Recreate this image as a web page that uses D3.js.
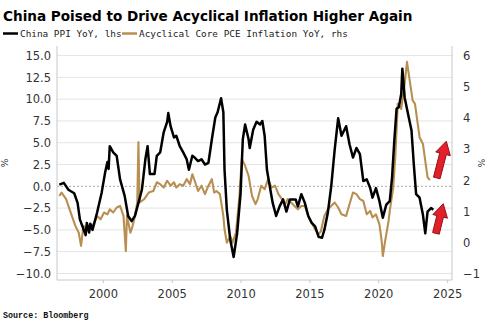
<!DOCTYPE html>
<html>
<head>
<meta charset="utf-8">
<script src="https://cdn.jsdelivr.net/npm/d3@7"></script>
<style>
  body { margin: 0; background: #fff; }
  svg { display: block; }
</style>
</head>
<body>
<svg width="485" height="330"></svg>
<script>
const width = 485;
const height = 330;

// China PPI YoY (lhs)
const ppiDates = ["1996-11","1997-03","1997-07","1997-12","1998-03","1998-05","1998-10","1998-11","1999-01","1999-02","1999-04","1999-08","1999-12",
  "2000-03","2000-05","2000-06","2000-07","2000-10","2001-01","2001-04","2001-08","2001-11","2002-02","2002-05","2002-08","2002-11",
  "2003-02","2003-04","2003-06","2003-10","2003-12","2004-03","2004-06","2004-09","2004-10","2004-12","2005-03","2005-05","2005-08","2005-11",
  "2006-02","2006-04","2006-07","2006-09","2006-12","2007-03","2007-06","2007-09","2007-12","2008-03","2008-05","2008-08","2008-10","2008-11",
  "2009-01","2009-04","2009-07","2009-10","2010-01","2010-03","2010-05","2010-08","2010-09","2010-12","2011-03","2011-06","2011-08","2011-10","2011-12",
  "2012-03","2012-05","2012-08","2012-11","2013-02","2013-05","2013-08","2014-01","2014-03","2014-06","2014-09","2014-12",
  "2015-03","2015-06","2015-09","2015-12","2016-02","2016-05","2016-08","2016-11","2017-02","2017-05","2017-09","2017-12",
  "2018-03","2018-06","2018-09","2018-12","2019-03","2019-06","2019-08","2019-11","2020-02","2020-05","2020-08","2020-11",
  "2021-01","2021-03","2021-05","2021-07","2021-09","2021-10","2021-12","2022-03","2022-06","2022-08","2022-10",
  "2023-01","2023-04","2023-06","2023-08","2023-11","2024-01"];
const ppiValues = [0.2,0.4,-0.4,-0.8,-1.9,-3.8,-5.6,-4.2,-5.3,-4.3,-5.0,-3.0,-0.7,
  1.6,2.8,2.0,4.6,3.9,3.5,0.8,-1.1,-3.4,-4.0,-3.4,-1.9,-0.4,
  3.1,4.6,1.4,1.4,3.5,3.9,6.2,7.4,8.4,6.9,5.6,5.8,4.6,3.9,
  3.1,1.9,3.5,3.3,2.9,3.1,2.5,2.7,5.4,7.9,8.5,10.1,8.5,1.9,
  -2.7,-6.1,-8.1,-5.4,-0.8,5.4,7.1,5.4,4.4,6.5,7.4,7.1,7.5,5.8,1.9,
  -0.4,-1.9,-3.4,-2.3,-1.5,-2.9,-1.5,-1.5,-2.3,-0.9,-1.9,-3.4,
  -4.2,-4.6,-5.8,-5.9,-5.0,-3.1,0.0,4.2,7.8,5.8,6.9,4.8,
  3.3,4.4,3.7,0.6,0.8,-0.2,-1.3,-0.2,-1.7,-3.6,-2.1,-1.7,
  1.0,5.2,8.9,9.1,10.6,13.5,10.2,8.3,6.4,2.5,-0.9,
  -1.3,-3.3,-5.4,-2.9,-2.5,-2.7];

// Acyclical Core PCE Inflation YoY (rhs)
const pceDates = ["1996-11","1997-01","1997-05","1997-08","1998-01","1998-04","1998-06","1998-08","1998-11","1999-02","1999-05","1999-08","1999-11",
  "2000-02","2000-05","2000-07","2000-10","2001-01","2001-04","2001-07","2001-09","2001-10","2002-01","2002-03","2002-05","2002-07","2002-08","2002-09",
  "2003-01","2003-05","2003-09","2003-12","2004-03","2004-06","2004-09","2004-12","2005-03","2005-05","2005-08","2005-11",
  "2006-02","2006-05","2006-07","2006-09","2006-12","2007-03","2007-06","2007-09","2007-12","2008-02","2008-04","2008-07","2008-10","2008-11",
  "2009-01","2009-04","2009-06","2009-09","2009-12","2010-02","2010-05","2010-08","2010-11","2011-02","2011-04","2011-07","2011-10",
  "2012-01","2012-04","2012-07","2012-10","2013-01","2013-04","2013-06","2013-09","2013-12","2014-03","2014-06","2014-09","2014-12",
  "2015-03","2015-06","2015-09","2015-11","2016-02","2016-05","2016-08","2016-11","2017-02","2017-05","2017-09","2017-12",
  "2018-03","2018-06","2018-09","2018-12","2019-03","2019-06","2019-08","2019-11","2020-02","2020-04","2020-05","2020-07","2020-10","2020-11",
  "2021-02","2021-04","2021-06","2021-09","2021-12","2022-02","2022-04","2022-07","2022-09","2022-11",
  "2023-01","2023-04","2023-06","2023-08","2023-10"];
const pceValues = [1.50,1.61,1.40,1.07,0.54,0.32,-0.10,0.54,0.43,0.54,0.59,0.86,0.75,
  0.97,0.91,1.07,0.97,1.13,1.18,0.86,-0.27,0.86,0.32,0.54,0.86,1.29,3.23,1.29,
  1.40,1.61,1.66,1.94,1.88,1.77,1.99,1.83,1.94,1.77,1.88,1.83,
  2.04,1.88,2.20,1.99,1.66,1.83,1.56,1.83,2.04,1.61,1.66,1.56,0.86,0.43,
  0.00,0.21,0.00,0.32,1.50,2.69,2.47,2.15,1.50,1.24,1.40,1.83,1.72,
  2.04,1.77,1.83,1.56,1.40,1.24,1.40,1.29,1.18,1.07,1.18,1.18,0.86,
  0.65,0.43,0.27,0.37,0.86,1.07,1.18,1.29,1.13,0.91,0.86,1.24,
  1.61,1.56,1.40,1.34,0.91,1.02,0.81,0.91,0.59,0.05,-0.43,0.05,0.70,1.02,
  1.77,2.85,4.46,4.30,5.11,5.81,5.32,4.57,4.46,3.92,
  3.39,3.17,2.63,2.10,2.01];

const leftTicks = [15, 12.5, 10, 7.5, 5, 2.5, 0, -2.5, -5, -7.5, -10];
const rightTicks = [6, 5, 4, 3, 2, 1, 0, -1];
const yearTicks = [2000, 2005, 2010, 2015, 2020, 2025];

const titleText = "China Poised to Drive Acyclical Inflation Higher Again";
const legendLabels = ["China PPI YoY, lhs", "Acyclical Core PCE Inflation YoY, rhs"];
const sourceText = "Source: Bloomberg";

const ppiColor = "#000000";
const pceColor = "#b88f50";

const parse = d3.timeParse("%Y-%m");
const ppi = ppiDates.map((d, i) => ({ date: parse(d), value: ppiValues[i] }));
const pce = pceDates.map((d, i) => ({ date: parse(d), value: pceValues[i] }));

const plot = { left: 57, right: 452, top: 46, bottom: 280 };

const svg = d3.select("svg");

const x = d3.scaleTime()
  .domain([new Date(1996, 8, 1), new Date(2025, 4, 10)])
  .range([plot.left, plot.right]);

const yLeft = d3.scaleLinear()
  .domain([-10.75, 16.1])
  .range([plot.bottom, plot.top]);

const yRight = d3.scaleLinear()
  .domain([-1.2, 6.32])
  .range([plot.bottom, plot.top]);

// grid lines
svg.append("g")
  .selectAll("line")
  .data(leftTicks)
  .enter()
  .append("line")
  .attr("x1", plot.left)
  .attr("x2", plot.right)
  .attr("y1", d => yLeft(d))
  .attr("y2", d => yLeft(d))
  .attr("stroke", d => d === 0 ? "none" : "#e4e4e4")
  .attr("stroke-width", 1);

// zero line
svg.append("line")
  .attr("x1", plot.left)
  .attr("x2", plot.right)
  .attr("y1", yLeft(0))
  .attr("y2", yLeft(0))
  .attr("stroke", "#a8a8a8")
  .attr("stroke-width", 1)
  .attr("stroke-dasharray", "2,2");

// left axis
const leftAxis = svg.append("g")
  .attr("transform", `translate(${plot.left},0)`)
  .call(d3.axisLeft(yLeft).tickValues(leftTicks).tickFormat(d3.format(".1f")).tickSize(0).tickPadding(6));

// right axis
const rightAxis = svg.append("g")
  .attr("transform", `translate(${plot.right},0)`)
  .call(d3.axisRight(yRight).tickValues(rightTicks).tickFormat(d3.format("d")).tickSize(0).tickPadding(11));

// bottom axis
const bottomAxis = svg.append("g")
  .attr("transform", `translate(0,${plot.bottom})`)
  .call(d3.axisBottom(x).tickValues(yearTicks.map(y => new Date(y, 0, 1))).tickFormat(d3.timeFormat("%Y")).tickSize(3).tickPadding(7));

[leftAxis, rightAxis, bottomAxis].forEach(g => {
  g.select(".domain").attr("stroke", "#c8c8c8");
  g.selectAll(".tick line").attr("stroke", "#c8c8c8");
  g.selectAll("text")
    .attr("fill", "#333")
    .style("font-family", "DejaVu Sans, sans-serif")
    .style("font-size", "11.5px");
});
leftAxis.select(".domain").attr("d", `M0,${plot.top}V${plot.bottom}`);
rightAxis.select(".domain").attr("d", `M0,${plot.top}V${plot.bottom}`);
bottomAxis.select(".domain").attr("d", `M${plot.left},0H${plot.right}`);

// % labels
svg.append("text")
  .attr("transform", `translate(8,${(plot.top + plot.bottom) / 2}) rotate(-90)`)
  .attr("text-anchor", "middle")
  .style("font-family", "DejaVu Sans, sans-serif")
  .style("font-size", "9px")
  .attr("fill", "#333")
  .text("%");

svg.append("text")
  .attr("transform", `translate(478,${(plot.top + plot.bottom) / 2}) rotate(90)`)
  .attr("text-anchor", "middle")
  .style("font-family", "DejaVu Sans, sans-serif")
  .style("font-size", "9px")
  .attr("fill", "#333")
  .text("%");

// lines
const lineLeft = d3.line().x(d => x(d.date)).y(d => yLeft(d.value));
const lineRight = d3.line().x(d => x(d.date)).y(d => yRight(d.value));

svg.append("path")
  .datum(pce)
  .attr("fill", "none")
  .attr("stroke", pceColor)
  .attr("stroke-width", 2.1)
  .attr("stroke-linejoin", "round")
  .attr("d", lineRight);

svg.append("path")
  .datum(ppi)
  .attr("fill", "none")
  .attr("stroke", ppiColor)
  .attr("stroke-width", 2.5)
  .attr("stroke-linejoin", "round")
  .attr("d", lineLeft);

// red arrows (annotation)
function arrow(x0, y0, x1, y1) {
  const dx = x1 - x0, dy = y1 - y0;
  const len = Math.sqrt(dx * dx + dy * dy);
  const ang = Math.atan2(dy, dx) * 180 / Math.PI;
  const head = 13, hw = 7.5, sw = 3.4;
  const p = [[0, -sw], [len - head, -sw], [len - head, -hw], [len, 0], [len - head, hw], [len - head, sw], [0, sw]];
  svg.append("path")
    .attr("d", "M" + p.map(q => q.join(",")).join("L") + "Z")
    .attr("transform", `translate(${x0},${y0}) rotate(${ang})`)
    .attr("fill", "#e3202a")
    .attr("stroke", "#8e0f16")
    .attr("stroke-width", 0.9);
}
arrow(x(new Date(2024, 3, 1)), yRight(2.08), x(new Date(2024, 11, 10)), yRight(3.26));
arrow(x(new Date(2024, 2, 10)), yLeft(-5.4), x(new Date(2024, 8, 20)), yLeft(-2.0));

// title
const title = svg.append("text")
  .attr("x", 3)
  .attr("y", 21)
  .style("font-family", "DejaVu Sans, sans-serif")
  .style("font-weight", "bold")
  .style("font-size", "13px")
  .attr("fill", "#000")
  .text(titleText);
const tw = title.node().getComputedTextLength();
title.style("font-size", (13 * 410 / tw) + "px");

// legend
const legend = svg.append("g");
const legendItems = [
  { x: 3, label: legendLabels[0], color: ppiColor },
  { x: 122, label: legendLabels[1], color: pceColor }
];
legendItems.forEach(d => {
  legend.append("line")
    .attr("x1", d.x).attr("x2", d.x + 15)
    .attr("y1", 33.5).attr("y2", 33.5)
    .attr("stroke", d.color)
    .attr("stroke-width", 2.5);
  legend.append("text")
    .attr("x", d.x + 17)
    .attr("y", 37)
    .style("font-family", "DejaVu Sans Mono, monospace")
    .style("font-size", "9.4px")
    .attr("fill", "#222")
    .text(d.label);
});

// source
svg.append("text")
  .attr("x", 3)
  .attr("y", 318)
  .style("font-family", "Liberation Mono, monospace")
  .style("font-weight", "bold")
  .style("font-size", "8.4px")
  .attr("fill", "#111")
  .text(sourceText);
</script>
</body>
</html>
